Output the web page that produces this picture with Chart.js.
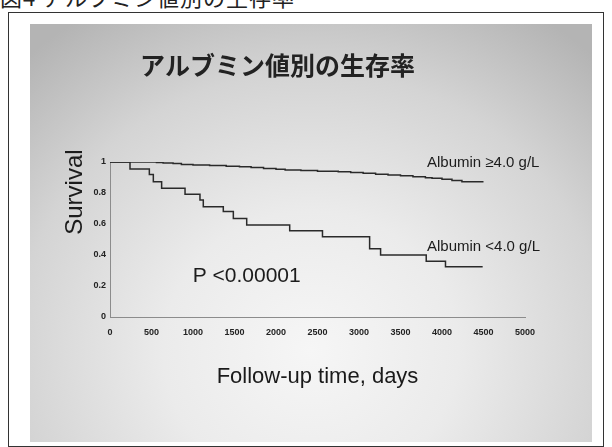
<!DOCTYPE html>
<html>
<head>
<meta charset="utf-8">
<script src="https://cdn.jsdelivr.net/npm/chart.js@4/dist/chart.umd.min.js"></script>
<style>
  html, body { margin: 0; padding: 0; background: #fff; width: 612px; height: 447px; overflow: hidden; }
  #caption { position: absolute; left: 0; top: -15px; font: 22px/22px "Noto Sans CJK JP", sans-serif; color: #222; white-space: nowrap; letter-spacing: 1px; }
  #frame { position: absolute; left: 8px; top: 12px; width: 596px; height: 435px; border: 1.5px solid #333; box-sizing: border-box; background: #fff; }
  #panel { position: absolute; left: 30px; top: 24px; width: 562px; height: 418px;
    background: radial-gradient(ellipse 75% 95% at 50% 78%, #f6f6f6 0%, #ebebeb 35%, #d4d4d4 70%, #b4b4b4 100%); }
  #chart { position: absolute; left: 0; top: 0; }
</style>
</head>
<body>
<div id="caption">図4 アルブミン値別の生存率</div>
<div id="frame"></div>
<div id="panel"><canvas id="chart" width="562" height="418"></canvas></div>
<script>
// Kaplan-Meier survival by serum albumin group
const dayTicks = [0, 500, 1000, 1500, 2000, 2500, 3000, 3500, 4000, 4500, 5000];
const survTicks = [0, 0.2, 0.4, 0.6, 0.8, 1];
const survTickLabels = ['0', '0.2', '0.4', '0.6', '0.8', '1'];

// Albumin >= 4.0 g/L
const highDays = [0, 560, 640, 760, 860, 1000, 1200, 1400, 1560, 1700, 1850, 2000, 2110, 2300, 2500, 2750, 2900, 3050, 3200, 3350, 3500, 3650, 3800, 3880, 4000, 4120, 4240, 4500];
const highSurv = [1.000, 0.997, 0.994, 0.990, 0.984, 0.981, 0.977, 0.973, 0.969, 0.964, 0.958, 0.953, 0.948, 0.945, 0.941, 0.937, 0.932, 0.927, 0.921, 0.916, 0.911, 0.905, 0.899, 0.895, 0.888, 0.881, 0.873, 0.873];

// Albumin < 4.0 g/L
const lowDays = [0, 241, 474, 522, 622, 904, 1084, 1124, 1365, 1486, 1647, 2165, 2560, 3128, 3260, 3810, 4042, 4490];
const lowSurv = [1.000, 0.955, 0.920, 0.873, 0.830, 0.792, 0.755, 0.712, 0.680, 0.635, 0.594, 0.556, 0.517, 0.440, 0.400, 0.360, 0.325, 0.325];

const groupNames = ['Albumin ≥4.0 g/L', 'Albumin <4.0 g/L'];
const pValueText = 'P <0.00001';

const toPoints = (xs, ys) => xs.map((x, i) => ({ x: x, y: ys[i] }));

// free-standing labels, anchored in data coordinates
const chartNotes = [
  { text: groupNames[0], x: 3819, y: 0.995, size: 15 },
  { text: groupNames[1], x: 3819, y: 0.450, size: 15 },
  { text: pValueText, x: 996, y: 0.260, size: 21 }
];

const notesPlugin = {
  id: 'notes',
  afterDatasetsDraw(chart) {
    const { ctx, scales: { x, y }, chartArea } = chart;
    ctx.save();
    ctx.fillStyle = '#1c1c1c';
    ctx.textBaseline = 'middle';
    ctx.textAlign = 'left';
    chartNotes.forEach(n => {
      ctx.font = n.size + 'px "Liberation Sans", Arial, sans-serif';
      ctx.fillText(n.text, x.getPixelForValue(n.x), y.getPixelForValue(n.y));
    });
    // y-axis title
    ctx.translate(chartArea.left - 35, y.getPixelForValue(0.806));
    ctx.rotate(-Math.PI / 2);
    ctx.textAlign = 'center';
    ctx.font = '24px "Liberation Sans", Arial, sans-serif';
    ctx.fillText('Survival', 0, 0);
    ctx.restore();
  }
};

const lineStyle = { borderColor: '#2a2a2a', borderWidth: 1.5, pointRadius: 0, stepped: true, fill: false };
const tickFont = { family: '"Liberation Sans", Arial, sans-serif', size: 9, weight: 'bold' };
const axisBorder = { display: true, color: '#8c8c8c', width: 1, dash: [1, 2] };

new Chart(document.getElementById('chart'), {
  type: 'line',
  data: {
    datasets: [
      Object.assign({ label: groupNames[0], data: toPoints(highDays, highSurv) }, lineStyle),
      Object.assign({ label: groupNames[1], data: toPoints(lowDays, lowSurv) }, lineStyle)
    ]
  },
  options: {
    responsive: false,
    animation: false,
    devicePixelRatio: 1,
    layout: { padding: { left: 0, right: 67, top: 0, bottom: 0 } },
    plugins: {
      legend: { display: false },
      tooltip: { enabled: false },
      title: {
        display: true,
        text: 'アルブミン値別の生存率',
        color: '#222',
        font: { family: '"Noto Sans CJK JP", sans-serif', size: 25, weight: 'bold' },
        padding: { top: 26, bottom: 82 }
      }
    },
    scales: {
      x: {
        type: 'linear',
        min: 0,
        max: 5000,
        afterFit: s => { s.height = 125; },
        afterBuildTicks: s => { s.ticks = dayTicks.map(v => ({ value: v })); },
        grid: { display: false, drawTicks: false },
        border: axisBorder,
        ticks: { font: tickFont, color: '#222', padding: 10, maxRotation: 0, autoSkip: false,
                 callback: v => String(v) },
        title: {
          display: true,
          text: 'Follow-up time, days',
          color: '#1a1a1a',
          font: { family: '"Liberation Sans", Arial, sans-serif', size: 22 },
          padding: { top: 0, bottom: 52 }
        }
      },
      y: {
        type: 'linear',
        min: 0,
        max: 1,
        afterFit: s => { s.width = 80; },
        afterBuildTicks: s => { s.ticks = survTicks.map(v => ({ value: v })); },
        grid: { display: false, drawTicks: false },
        border: axisBorder,
        ticks: { font: tickFont, color: '#222', padding: 4, autoSkip: false,
                 callback: v => survTickLabels[survTicks.indexOf(v)] }
      }
    }
  },
  plugins: [notesPlugin]
});
</script>
</body>
</html>
